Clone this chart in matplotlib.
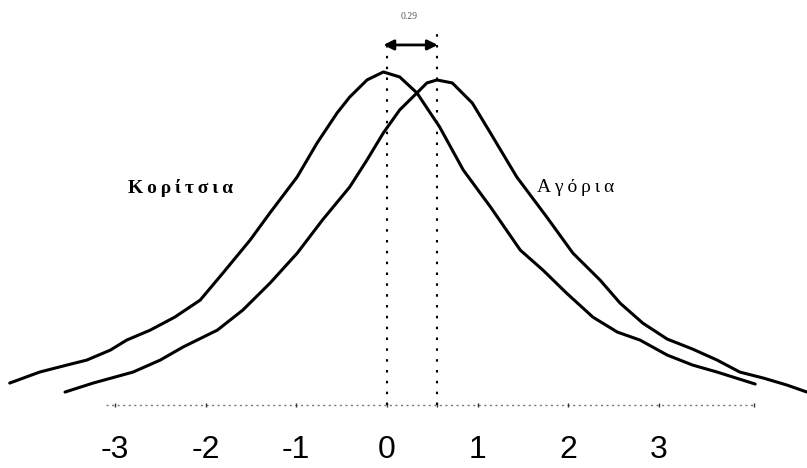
import matplotlib
matplotlib.use("Agg")
import matplotlib.pyplot as plt
import numpy as np

# Girls curve (left)
girls_x = [-4.16, -3.83, -3.53, -3.31, -3.05, -2.87, -2.61, -2.34, -2.06, -1.81, -1.51, -1.29,
           -0.99, -0.77, -0.55, -0.41, -0.22, -0.04, 0.14, 0.33, 0.58, 0.84, 1.14, 1.47, 1.72,
           1.98, 2.27, 2.54, 2.79, 3.09, 3.37, 3.64, 4.06]
girls_y = [0.066, 0.099, 0.120, 0.135, 0.165, 0.195, 0.225, 0.264, 0.315, 0.396, 0.495, 0.577,
           0.685, 0.787, 0.877, 0.925, 0.976, 1.000, 0.985, 0.937, 0.835, 0.706, 0.595, 0.465, 0.405,
           0.336, 0.264, 0.219, 0.195, 0.150, 0.120, 0.099, 0.063]

# Boys curve (right)
boys_x = [-3.55, -3.24, -2.80, -2.50, -2.25, -1.87, -1.59, -1.29, -0.99, -0.71, -0.41, -0.22,
          -0.04, 0.14, 0.33, 0.44, 0.55, 0.72, 0.94, 1.14, 1.43, 1.76, 2.05, 2.35, 2.57, 2.82,
          3.09, 3.37, 3.64, 3.89, 4.15, 4.41, 4.63]
boys_y = [0.039, 0.066, 0.099, 0.135, 0.174, 0.225, 0.285, 0.366, 0.456, 0.556, 0.655, 0.736,
          0.817, 0.886, 0.937, 0.967, 0.976, 0.967, 0.907, 0.817, 0.685, 0.565, 0.456, 0.375, 0.306,
          0.246, 0.198, 0.168, 0.135, 0.099, 0.081, 0.060, 0.039]

tick_values = [-3, -2, -1, 0, 1, 2, 3]
tick_labels = ["-3", "-2", "-1", "0", "1", "2", "3"]
girls_mean = 0.0
boys_mean = 0.55
diff_label = "0.29"
label_girls = "Κορίτσια"
label_boys = "Αγόρια"

fig = plt.figure(figsize=(8.07, 4.68), dpi=100)
ax = fig.add_axes([0, 0, 1, 1])
ax.set_xlim(-4.267, 4.631)
ax.set_ylim(-0.189, 1.216)
ax.axis("off")

ax.plot(girls_x, girls_y, color="black", lw=2.2, solid_capstyle="round", solid_joinstyle="round")
ax.plot(boys_x, boys_y, color="black", lw=2.2, solid_capstyle="round", solid_joinstyle="round")

# baseline (dotted)
ax.plot([-3.1, 4.05], [0, 0], color="#777777", lw=1.0, linestyle=(0, (1.5, 2.5)))
ax.plot(tick_values + [boys_mean, 4.05], [0] * (len(tick_values) + 2), linestyle="none",
        marker="|", markersize=3, color="#333333", mew=1.0)

# vertical dotted lines at means
ax.plot([girls_mean, girls_mean], [0, 1.08], color="black", lw=1.5, linestyle=(0, (1.2, 4)))
ax.plot([boys_mean, boys_mean], [0, 1.13], color="black", lw=1.5, linestyle=(0, (1.2, 4)))

# double arrow
ax.annotate("", xy=(girls_mean - 0.07, 1.081), xytext=(boys_mean + 0.04, 1.081),
            arrowprops=dict(arrowstyle="<|-|>", color="black", lw=2.0, mutation_scale=15))
ax.text((girls_mean + boys_mean) / 2 - 0.03, 1.165, diff_label, fontsize=7, color="#555555",
        ha="center", va="center", family=["Liberation Serif", "DejaVu Serif"])

thin = "\u2009"
ax.text(-2.28, 0.652, thin.join(label_girls), fontsize=14, fontweight="bold", ha="center",
        va="center", family=["Liberation Serif", "DejaVu Serif"])
ax.text(2.08, 0.652, thin.join(label_boys), fontsize=14, ha="center", va="center",
        family=["Liberation Serif", "DejaVu Serif"])

for v, t in zip(tick_values, tick_labels):
    ax.text(v, -0.135, t, fontsize=23, ha="center", va="center",
            family=["Liberation Sans Narrow", "Liberation Sans", "DejaVu Sans"])

fig.savefig("out.png", dpi=100, facecolor="white")
